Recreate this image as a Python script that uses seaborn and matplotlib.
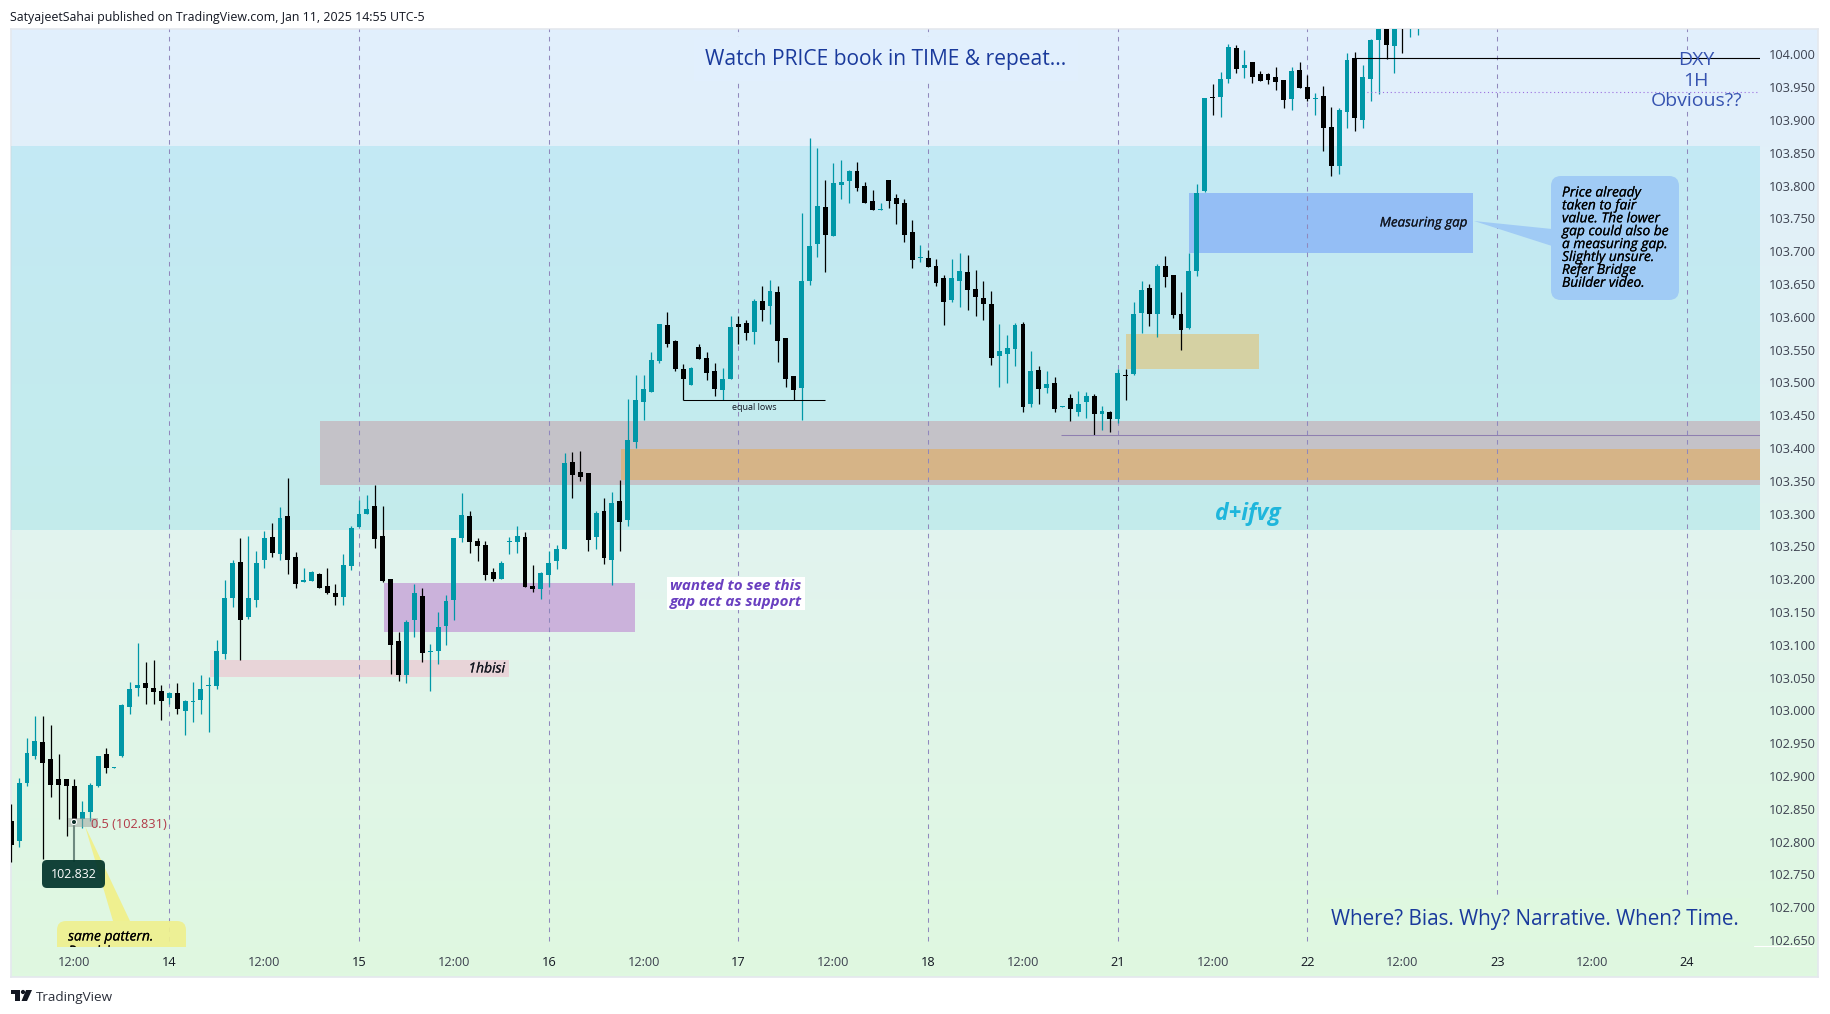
import matplotlib
matplotlib.use("Agg")
import matplotlib.pyplot as plt
import matplotlib.patheffects as pe
import numpy as np
import pandas as pd
import seaborn as sns
from matplotlib.colors import LinearSegmentedColormap
from matplotlib.patches import Circle, FancyBboxPatch, Polygon, Rectangle

# DXY 1H candles, bar 0 is the "14" session line
first_bar = -20

opens = [
    102.831, 102.801, 102.890, 102.931, 102.952, 102.926, 102.895, 102.895, 102.884, 102.835,
    102.845, 102.884, 102.933, 102.912, 102.931, 103.005, 103.034, 103.041, 103.034, 103.029,
    103.019, 103.026, 102.999, 103.013, 103.016, 103.037, 103.037, 103.086, 103.171, 103.226,
    103.142, 103.168, 103.229, 103.264, 103.238, 103.297, 103.234, 103.195, 103.197, 103.208,
    103.189, 103.179, 103.173, 103.220, 103.280, 103.300, 103.312, 103.266, 103.200, 103.106,
    103.054, 103.138, 103.174, 103.089, 103.091, 103.129, 103.168, 103.263, 103.296, 103.258,
    103.252, 103.211, 103.200, 103.256, 103.257, 103.264, 103.190, 103.185, 103.207, 103.228,
    103.246, 103.379, 103.363, 103.362, 103.264, 103.304, 103.229, 103.319, 103.290, 103.409,
    103.470, 103.485, 103.533, 103.588, 103.563, 103.520, 103.496, 103.554, 103.537, 103.517,
    103.488, 103.505, 103.589, 103.591, 103.577, 103.624, 103.617, 103.638, 103.568, 103.510,
    103.492, 103.655, 103.711, 103.767, 103.723, 103.801, 103.807, 103.822, 103.799, 103.777,
    103.763, 103.809, 103.781, 103.774, 103.729, 103.689, 103.690, 103.677, 103.659, 103.626,
    103.655, 103.668, 103.642, 103.629, 103.620, 103.540, 103.543, 103.551, 103.589, 103.467,
    103.519, 103.492, 103.499, 103.462, 103.476, 103.455, 103.470, 103.479, 103.452, 103.455,
    103.444, 103.511, 103.513, 103.606, 103.644, 103.604, 103.677, 103.664, 103.604, 103.583,
    103.670, 103.792, 103.935, 103.935, 103.962, 104.010, 103.979, 103.988, 103.970, 103.970,
    103.966, 103.961, 103.932, 103.976, 103.950, 103.932, 103.937, 103.889, 103.830, 103.912,
    103.994, 103.900, 103.962, 104.022, 104.060, 104.013, 104.070, 104.040, 104.050,
]
highs = [
    102.858, 102.897, 102.958, 102.991, 102.991, 102.977, 102.933, 102.895, 102.895, 102.862,
    102.889, 102.931, 102.942, 102.914, 103.010, 103.044, 103.102, 103.074, 103.077, 103.038,
    103.028, 103.041, 103.016, 103.044, 103.054, 103.051, 103.107, 103.198, 103.229, 103.263,
    103.266, 103.243, 103.273, 103.286, 103.310, 103.355, 103.241, 103.217, 103.213, 103.209,
    103.217, 103.192, 103.238, 103.281, 103.320, 103.328, 103.344, 103.312, 103.200, 103.120,
    103.138, 103.193, 103.187, 103.101, 103.150, 103.176, 103.263, 103.332, 103.304, 103.263,
    103.258, 103.217, 103.228, 103.264, 103.281, 103.272, 103.222, 103.211, 103.243, 103.252,
    103.392, 103.394, 103.395, 103.362, 103.304, 103.324, 103.333, 103.351, 103.475, 103.511,
    103.511, 103.546, 103.589, 103.607, 103.565, 103.528, 103.524, 103.559, 103.546, 103.530,
    103.522, 103.601, 103.601, 103.595, 103.627, 103.647, 103.656, 103.647, 103.568, 103.510,
    103.758, 103.873, 103.857, 103.809, 103.834, 103.839, 103.824, 103.836, 103.806, 103.793,
    103.774, 103.809, 103.787, 103.780, 103.748, 103.710, 103.702, 103.688, 103.664, 103.688,
    103.697, 103.694, 103.671, 103.655, 103.639, 103.589, 103.572, 103.591, 103.592, 103.548,
    103.525, 103.517, 103.508, 103.464, 103.482, 103.487, 103.485, 103.482, 103.464, 103.457,
    103.521, 103.521, 103.623, 103.655, 103.650, 103.681, 103.693, 103.664, 103.638, 103.697,
    103.802, 103.934, 103.955, 103.973, 104.016, 104.014, 104.007, 103.988, 103.975, 103.972,
    103.981, 103.961, 103.981, 103.988, 103.969, 103.941, 103.952, 103.920, 103.918, 104.002,
    104.004, 103.984, 104.023, 104.070, 104.070, 104.070, 104.080, 104.060, 104.075,
]
lows = [
    102.769, 102.791, 102.885, 102.926, 102.773, 102.868, 102.834, 102.809, 102.825, 102.821,
    102.831, 102.883, 102.905, 102.912, 102.929, 102.994, 103.022, 103.010, 103.010, 102.985,
    103.010, 102.995, 102.962, 102.983, 102.994, 102.967, 103.032, 103.079, 103.157, 103.077,
    103.140, 103.157, 103.217, 103.234, 103.229, 103.208, 103.186, 103.195, 103.197, 103.186,
    103.177, 103.161, 103.161, 103.214, 103.279, 103.300, 103.248, 103.196, 103.056, 103.045,
    103.041, 103.112, 103.074, 103.030, 103.071, 103.100, 103.138, 103.256, 103.240, 103.228,
    103.199, 103.197, 103.200, 103.238, 103.240, 103.188, 103.181, 103.170, 103.188, 103.216,
    103.246, 103.324, 103.350, 103.243, 103.246, 103.223, 103.191, 103.243, 103.281, 103.400,
    103.443, 103.485, 103.530, 103.554, 103.517, 103.473, 103.496, 103.536, 103.504, 103.479,
    103.473, 103.505, 103.559, 103.565, 103.559, 103.594, 103.589, 103.531, 103.493, 103.473,
    103.443, 103.649, 103.691, 103.668, 103.723, 103.780, 103.774, 103.792, 103.774, 103.763,
    103.763, 103.766, 103.742, 103.714, 103.674, 103.684, 103.676, 103.647, 103.588, 103.623,
    103.615, 103.610, 103.601, 103.595, 103.527, 103.493, 103.499, 103.525, 103.455, 103.463,
    103.467, 103.484, 103.455, 103.462, 103.441, 103.449, 103.446, 103.420, 103.428, 103.425,
    103.438, 103.473, 103.511, 103.575, 103.586, 103.569, 103.645, 103.598, 103.549, 103.581,
    103.662, 103.790, 103.908, 103.905, 103.956, 103.972, 103.964, 103.956, 103.959, 103.955,
    103.946, 103.918, 103.915, 103.949, 103.929, 103.908, 103.853, 103.815, 103.818, 103.888,
    103.883, 103.888, 103.929, 103.940, 103.993, 103.972, 104.002, 104.027, 104.030,
]
closes = [
    102.795, 102.890, 102.935, 102.953, 102.920, 102.886, 102.887, 102.884, 102.835, 102.845,
    102.886, 102.931, 102.912, 102.914, 103.008, 103.032, 103.038, 103.034, 103.028, 103.015,
    103.026, 103.002, 103.014, 103.015, 103.032, 103.039, 103.090, 103.171, 103.225, 103.138,
    103.171, 103.225, 103.263, 103.240, 103.294, 103.229, 103.193, 103.198, 103.211, 103.187,
    103.179, 103.173, 103.222, 103.278, 103.300, 103.307, 103.262, 103.197, 103.100, 103.054,
    103.135, 103.179, 103.087, 103.091, 103.127, 103.167, 103.263, 103.298, 103.257, 103.251,
    103.207, 103.200, 103.225, 103.258, 103.266, 103.188, 103.185, 103.210, 103.225, 103.246,
    103.377, 103.359, 103.356, 103.260, 103.301, 103.232, 103.316, 103.287, 103.412, 103.473,
    103.490, 103.534, 103.589, 103.559, 103.520, 103.505, 103.522, 103.536, 103.514, 103.490,
    103.505, 103.584, 103.584, 103.575, 103.624, 103.610, 103.639, 103.563, 103.505, 103.489,
    103.655, 103.708, 103.769, 103.725, 103.804, 103.806, 103.822, 103.796, 103.774, 103.763,
    103.765, 103.777, 103.772, 103.725, 103.687, 103.691, 103.676, 103.652, 103.623, 103.659,
    103.670, 103.641, 103.630, 103.620, 103.537, 103.548, 103.553, 103.588, 103.463, 103.517,
    103.490, 103.498, 103.460, 103.464, 103.460, 103.467, 103.479, 103.452, 103.457, 103.444,
    103.514, 103.509, 103.604, 103.641, 103.604, 103.677, 103.661, 103.603, 103.580, 103.670,
    103.789, 103.934, 103.933, 103.962, 104.011, 103.978, 103.984, 103.966, 103.959, 103.961,
    103.958, 103.930, 103.975, 103.949, 103.932, 103.934, 103.888, 103.830, 103.915, 103.991,
    103.903, 103.965, 104.022, 104.060, 104.014, 104.060, 104.050, 104.050, 104.070,
]

price_ticks = [round(102.65 + 0.05 * i, 2) for i in range(28)]
time_ticks = [-12, 0, 12, 24, 36, 48, 60, 72, 84, 96, 108, 120, 132, 144, 156, 168, 180, 192]
time_labels = ["12:00", "14", "12:00", "15", "12:00", "16", "12:00", "17", "12:00", "18",
               "12:00", "21", "12:00", "22", "12:00", "23", "12:00", "24"]
session_lines = [0, 24, 48, 72, 96, 120, 144, 168, 192]

# zones: start bar, end bar, low, high, colour
band_low, band_high = 103.275, 103.860
gray_zone = (19.1, 201.3, 103.344, 103.441, "#c4c2c8")
orange_zone = (57.1, 201.3, 103.351, 103.3985, "#d6b487")
pink_zone = (5.1, 43.0, 103.051, 103.077, "#e8d4d8")
purple_zone = (27.2, 58.9, 103.120, 103.194, "#cbb2db")
tan_zone = (121.0, 137.9, 103.521, 103.574, "#d5d1a3")
blue_zone = (129.0, 165.0, 103.697, 103.789, "#94bef5")

TEAL = "#0097a7"
INK = "#131722"
BLUE_TEXT = "#1a3a9c"
PANE_TOP = "#e1effd"
PANE_BOTTOM = "#dff8e0"
FONT = "Open Sans"

sns.set_theme(style="white")
plt.rcParams["font.family"] = [FONT, "DejaVu Sans"]

W, H = 1830, 1014
fig = plt.figure(figsize=(W / 100, H / 100), dpi=100, facecolor="white")

# pane background
bg = fig.add_axes([11 / W, 1 - 977 / H, 1807 / W, 948 / H])
cmap = LinearSegmentedColormap.from_list("pane", [PANE_TOP, "#e2f3f0", PANE_BOTTOM])
bg.imshow(np.linspace(0, 1, 256).reshape(-1, 1), cmap=cmap, aspect="auto")
bg.set_xticks([])
bg.set_yticks([])
for s in bg.spines.values():
    s.set_color("#e4e8ee")
    s.set_linewidth(1.2)

ax = fig.add_axes([11 / W, 1 - 947 / H, 1749 / W, 918 / H])
ax.patch.set_visible(False)

df = pd.DataFrame({"open": opens, "high": highs, "low": lows, "close": closes})
df["bar"] = np.arange(first_bar, first_bar + len(df))
df["bottom"] = df[["open", "close"]].min(axis=1)
df["height"] = (df["close"] - df["open"]).abs()
df["up"] = df["close"] >= df["open"]

xlim = (-20.03, 201.25)
ylim = (102.6393, 104.0387)

# zones under everything else
ax.fill_between(xlim, band_low, band_high, color="#00bcd4", alpha=0.13, lw=0, zorder=1)
for x0, x1, lo, hi, col in [gray_zone, orange_zone, pink_zone, purple_zone, tan_zone, blue_zone]:
    ax.fill_between([x0, x1], lo, hi, color=col, lw=0, zorder=2)

ax.vlines(session_lines, 102.648, ylim[1], colors="#9088bd", lw=0.75, linestyles=(0, (4.4, 4.6)), zorder=3)
# the DXY note hides the last session line behind it
ax.fill_between([191.5, 192.5], 103.915, 104.007, color=PANE_TOP, lw=0, zorder=3.2)

ax.vlines(df["bar"][df["up"]], df["low"][df["up"]], df["high"][df["up"]], colors=TEAL, lw=0.9, zorder=4)
ax.vlines(df["bar"][~df["up"]], df["low"][~df["up"]], df["high"][~df["up"]], colors="black", lw=0.9, zorder=4)

for is_up, col in [(True, TEAL), (False, "black")]:
    sub = df[df["up"] == is_up]
    sns.barplot(data=sub, x="bar", y="height", bottom=sub["bottom"].values, native_scale=True,
                width=0.62, color=col, saturation=1, errorbar=None, edgecolor="none",
                linewidth=0, zorder=5, ax=ax)

# drawn levels
ax.hlines(103.473, 65, 83, colors="black", lw=0.75, zorder=6)
ax.hlines(103.4194, 112.8, xlim[1], colors="#8f7fb0", lw=0.75, zorder=6)
ax.hlines(103.994, 150, xlim[1], colors="black", lw=0.8, zorder=6)
ax.hlines(103.942, 151, xlim[1], colors="#9b6fe0", lw=0.8, linestyles=(0, (1, 2.5)), zorder=4)

ax.set_xlim(xlim)
ax.set_ylim(ylim)
ax.set_xlabel("")
ax.set_ylabel("")
ax.set_xticks(time_ticks, time_labels)
ax.set_yticks(price_ticks, [f"{p:.3f}" for p in price_ticks])
ax.yaxis.tick_right()
ax.tick_params(axis="y", length=0, pad=6.5, labelsize=9.2, labelcolor="#3d4250")
ax.tick_params(axis="x", length=0, pad=6.5, labelsize=9.2, labelcolor="#3d4250")
for lab, txt in zip(ax.get_xticklabels(), time_labels):
    if txt != "12:00":
        lab.set_color(INK)
sns.despine(ax=ax, left=True, bottom=True, right=True, top=True)

# annotations sit on a pixel-sized layer on top
ov = fig.add_axes([0, 0, 1, 1], zorder=10)
ov.set_xlim(0, W)
ov.set_ylim(H, 0)
ov.axis("off")
clip = Rectangle((11, 29), 1807, 918, transform=ov.transData)
heavy = [pe.withStroke(linewidth=0.12, foreground="black")]

ov.plot([1754, 1811], [946, 946], color="white", lw=0.8)

ov.text(10, 18, "SatyajeetSahai published on TradingView.com, Jan 11, 2025 14:55 UTC-5",
        fontsize=8.95, color=INK, va="center")
ov.text(886, 59, "Watch PRICE book in TIME & repeat...", fontsize=15.15, color=BLUE_TEXT,
        ha="center", va="center", bbox=dict(fc=PANE_TOP, ec="none", pad=8))
ov.text(1535, 920, "Where? Bias. Why? Narrative. When? Time.", fontsize=14.85, color=BLUE_TEXT,
        ha="center", va="center", bbox=dict(fc=PANE_BOTTOM, ec="none", pad=8))
ov.text(1696, 80.5, "DXY\n1H\nObvious??", fontsize=14, color="#3653b0", ha="center", va="center",
        linespacing=1.2)

ov.text(1248, 514, "d+ifvg", fontsize=16.5, color="#1fb6dc", style="italic", weight="bold",
        ha="center", va="center")

ov.add_patch(Rectangle((667, 577), 138, 33, fc="white", ec="none"))
ov.text(670, 594, "wanted to see this\ngap act as support", fontsize=10.9, color="#6a3fc0",
        style="italic", weight="bold", va="center", linespacing=1.15)

ov.text(505, 669, "1hbisi", fontsize=10, color=INK, style="italic", ha="right", va="center",
        path_effects=heavy)
ov.text(754, 408, "equal lows", fontsize=6.5, color=INK, ha="center", va="center")
ov.text(1468, 223, "Measuring gap", fontsize=9.6, color=INK, style="italic", ha="right", va="center",
        path_effects=heavy)

# blue callout
ov.add_patch(Polygon([(1474, 221), (1552, 229), (1552, 246)], fc="#a0cbf5", ec="none"))
ov.add_patch(FancyBboxPatch((1551, 176), 128, 124, boxstyle="round,pad=0,rounding_size=10",
                            fc="#a0cbf5", ec="none", lw=0))
note_lines = ["Price already", "taken to fair", "value. The lower", "gap could also be",
              "a measuring gap.", "Slightly unsure.", "Refer Bridge", "Builder video."]
for i, line in enumerate(note_lines):
    ov.text(1562, 193 + i * 12.9, line, fontsize=9.9, color="black", style="italic", va="center",
            path_effects=heavy)

# yellow callout, cut off at the bottom of the pane
ov.add_patch(Polygon([(85, 826), (113, 921), (130, 921)], fc="#eff08f", ec="none", zorder=2))
box = FancyBboxPatch((57, 921), 129, 60, boxstyle="round,pad=0,rounding_size=9",
                     fc="#eff08f", ec="none", lw=0, alpha=0.92, zorder=2)
ov.add_patch(box)
box.set_clip_path(clip)
for y, line in [(937, "same pattern."), (952, "Repricing...")]:
    t = ov.text(68, y, line, fontsize=10, color="black", style="italic", va="center", zorder=3,
                path_effects=heavy)
    t.set_clip_on(True)
    t.set_clip_path(clip)

# crosshair label for the selected point
ov.add_patch(Rectangle((68, 818), 30, 9, fc="#9aa09a", ec="none", alpha=0.5, zorder=3))
ov.plot([74, 74], [822, 861], color="#6f8a80", lw=1.5, zorder=3)
ov.add_patch(Circle((74, 822), 2.6, fc="#0b2e27", ec="white", lw=0.8, zorder=4))
ov.add_patch(FancyBboxPatch((42, 860), 63, 28, boxstyle="round,pad=0,rounding_size=5",
                            fc="#00332a", ec="none", lw=0, alpha=0.92, zorder=4))
ov.text(74, 874, "102.832", fontsize=9, color="white", ha="center", va="center", zorder=5)
ov.text(91, 824, "0.5 (102.831)", fontsize=9.2, color="#b23a48", va="center", zorder=5)

# footer logo
ov.add_patch(Polygon([(11, 990), (20, 990), (20, 1001), (15, 1001), (15, 994), (11, 994)], fc=INK, ec="none"))
ov.add_patch(Circle((23, 992), 2.1, fc=INK, ec="none"))
ov.add_patch(Polygon([(26, 990), (32, 990), (27, 1001), (21.5, 1001)], fc=INK, ec="none"))
ov.text(36, 997, "TradingView", fontsize=9.7, color="#2a2e39", va="center")

fig.savefig("out.png", dpi=100)
